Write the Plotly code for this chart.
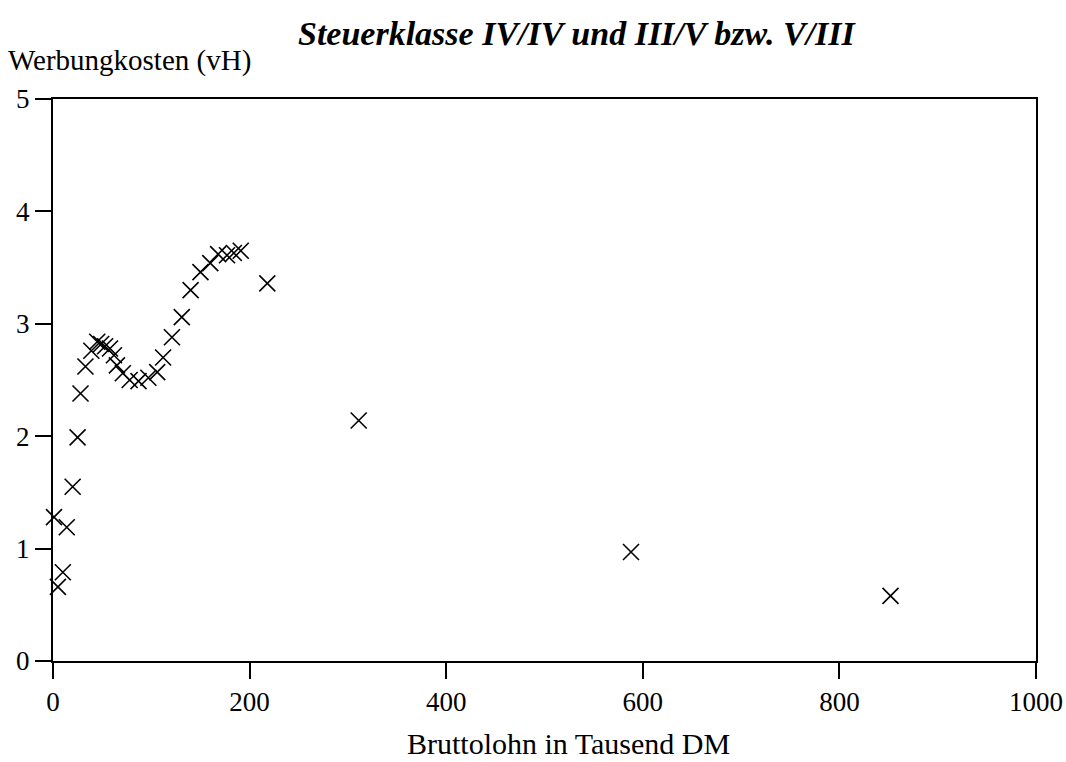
import plotly.graph_objects as go

# Bruttolohn in Tausend DM
bruttolohn = [1, 5, 10, 14, 20, 25, 28, 33, 39, 45, 49, 53, 58, 62, 65, 71, 78, 87, 97, 106,
              112, 121, 131, 140, 150, 160, 168, 177, 184, 191, 218, 311, 588, 852]
# Werbungkosten (vH)
werbungkosten = [1.28, 0.66, 0.79, 1.19, 1.55, 1.99, 2.38, 2.62, 2.76, 2.84, 2.82, 2.80, 2.78, 2.72,
                 2.63, 2.56, 2.50, 2.49, 2.52, 2.57, 2.70, 2.88, 3.06, 3.30, 3.46, 3.54, 3.62, 3.61,
                 3.63, 3.65, 3.36, 2.14, 0.97, 0.58]

x_ticks = [0, 200, 400, 600, 800, 1000]
y_ticks = [0, 1, 2, 3, 4, 5]

title_text = "Steuerklasse IV/IV und III/V bzw. V/III"
y_title = "Werbungkosten (vH)"
x_title = "Bruttolohn in Tausend DM"

FONT = "Liberation Serif"

fig = go.Figure()
fig.add_trace(go.Scatter(
    x=bruttolohn, y=werbungkosten, mode="markers",
    marker=dict(symbol="x-thin-open", size=16, color="black",
                line=dict(color="black", width=1.6)),
    showlegend=False, cliponaxis=False, hoverinfo="skip",
))

axis_common = dict(
    showgrid=False, zeroline=False, showline=True, linecolor="black", linewidth=2,
    ticks="outside", ticklen=16, tickwidth=2, tickcolor="black",
    mirror=True, tickfont=dict(family=FONT, size=27, color="black"),
    automargin=False, ticklabeloverflow="allow",
)

L, R = 53, 30
PW = 1066 - L - R

fig.update_layout(
    width=1066, height=762,
    margin=dict(l=L, r=R, t=99, b=101),
    paper_bgcolor="white", plot_bgcolor="white",
    xaxis=dict(range=[0, 1000], tickvals=x_ticks, ticktext=[str(v) for v in x_ticks], **axis_common),
    yaxis=dict(range=[0, 5], tickvals=y_ticks, ticktext=[str(v) for v in y_ticks], **axis_common),
    annotations=[
        dict(text="<b><i>" + title_text + "</i></b>", xref="paper", yref="paper",
             x=(577 - L) / PW, y=1 + (99 - 33) / 562, xanchor="center", yanchor="middle",
             showarrow=False, font=dict(family=FONT, size=34, color="black")),
        dict(text=y_title, xref="paper", yref="paper",
             x=(6 - L) / PW, y=1 + (99 - 61) / 562, xanchor="left", yanchor="middle",
             showarrow=False, font=dict(family=FONT, size=29, color="black")),
        dict(text=x_title, xref="paper", yref="paper",
             x=(568 - L) / PW, y=-(743 - 661) / 562, xanchor="center", yanchor="middle",
             showarrow=False, font=dict(family=FONT, size=30, color="black")),
    ],
)

fig.write_html(
    "out.html",
    config={"displayModeBar": False},
    post_script="document.body.style.margin='0';document.body.style.padding='0';"
                "document.body.style.overflow='hidden';"
                "document.documentElement.style.overflow='hidden';",
)
